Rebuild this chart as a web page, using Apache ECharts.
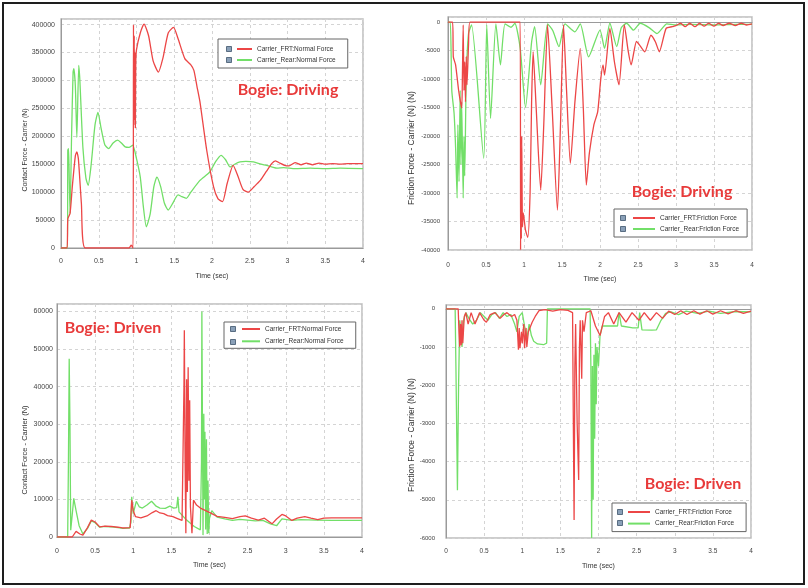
<!DOCTYPE html>
<html>
<head>
<meta charset="utf-8">
<script src="https://cdn.jsdelivr.net/npm/echarts@6/dist/echarts.min.js"></script>
<style>
html, body { margin: 0; padding: 0; background: #fff; }
#myChart { width: 808px; height: 588px; }
</style>
</head>
<body>
<div id="myChart"></div>
<script>
// series names
var nameFrtNormal = 'Carrier_FRT:Normal Force';
var nameRearNormal = 'Carrier_Rear:Normal Force';
var nameFrtFriction = 'Carrier_FRT:Friction Force';
var nameRearFriction = 'Carrier_Rear:Friction Force';

// [time (sec), force (N)]
// Bogie: Driving - contact force
var frtNormalDriving = [[0,0],[0.08,0],[0.09,52000],[0.12,62000],[0.15,110000],[0.19,165000],[0.21,172000],[0.23,160000],[0.27,80000],[0.32,0],[0.9,0],[0.93,5000],[0.955,0],[0.96,400000],[0.965,220000],[0.97,380000],[0.975,230000],[0.98,350000],[0.985,215000],[0.99,330000],[1.0,355000],[1.05,385000],[1.1,401000],[1.16,380000],[1.22,335000],[1.29,315000],[1.35,340000],[1.42,385000],[1.49,395000],[1.55,375000],[1.64,339000],[1.72,328000],[1.76,318000],[1.8,290000],[1.84,262000],[1.93,175000],[2.02,110000],[2.08,88000],[2.14,83000],[2.2,115000],[2.28,148000],[2.34,130000],[2.41,105000],[2.48,100000],[2.56,110000],[2.64,121000],[2.72,137000],[2.79,151000],[2.84,156000],[2.9,152000],[2.96,148000],[3.02,147000],[3.1,153000],[3.18,149000],[3.25,152000],[3.33,149000],[3.42,152000],[3.5,150000],[3.6,151000],[3.7,150000],[3.8,151000],[4.0,151000]];
var rearNormalDriving = [[0,0],[0.085,0],[0.09,175000],[0.1,178000],[0.11,120000],[0.12,62000],[0.14,200000],[0.16,315000],[0.17,321000],[0.19,290000],[0.21,198000],[0.235,327000],[0.25,300000],[0.29,180000],[0.33,125000],[0.36,112000],[0.4,150000],[0.45,220000],[0.49,243000],[0.53,215000],[0.58,185000],[0.63,178000],[0.69,188000],[0.75,193000],[0.8,188000],[0.85,181000],[0.9,180000],[0.95,184000],[1.0,160000],[1.05,127000],[1.09,75000],[1.13,38000],[1.18,60000],[1.23,110000],[1.27,127000],[1.32,110000],[1.37,80000],[1.42,68000],[1.48,80000],[1.55,95000],[1.6,92000],[1.66,89000],[1.72,100000],[1.84,121000],[1.97,136000],[2.05,155000],[2.12,166000],[2.18,158000],[2.24,145000],[2.3,150000],[2.37,154000],[2.45,155000],[2.55,154000],[2.65,150000],[2.72,148000],[2.8,145000],[2.86,143000],[2.95,144000],[3.1,142000],[3.3,143000],[3.5,142000],[3.7,143000],[4.0,142000]];

// Bogie: Driving - friction force
var frtFrictionDriving = [[0,0],[0.06,0],[0.07,-6100],[0.1,-7500],[0.14,-12000],[0.18,-15100],[0.19,-9000],[0.2,-500],[0.21,-12000],[0.22,-7000],[0.23,-14000],[0.24,-6000],[0.25,-11000],[0.27,-4000],[0.29,0],[0.95,0],[0.955,-40000],[0.96,-22000],[0.965,-38000],[0.97,-20000],[0.98,-36000],[0.99,-33500],[1.02,-36500],[1.05,-37800],[1.08,-30000],[1.1,-14000],[1.12,-5200],[1.16,-15000],[1.22,-29500],[1.26,-18000],[1.31,-500],[1.37,-15000],[1.44,-33000],[1.48,-18000],[1.52,-500],[1.56,-12000],[1.61,-24800],[1.67,-14000],[1.74,-4600],[1.78,-15000],[1.82,-28600],[1.86,-23000],[1.92,-18000],[1.97,-15700],[2.01,-10000],[2.04,-7500],[2.06,-9300],[2.13,-1100],[2.19,-7000],[2.25,-11000],[2.32,-500],[2.37,-5000],[2.41,-7500],[2.48,-3400],[2.53,-4200],[2.59,-5200],[2.67,-2300],[2.73,-3500],[2.78,-5200],[2.87,-1100],[2.95,-800],[3.0,-600],[3.06,-200],[3.12,-800],[3.18,-200],[3.25,-800],[3.31,-200],[3.37,-700],[3.43,-200],[3.5,-700],[3.56,-200],[3.62,-600],[3.7,-200],[3.78,-600],[3.86,-200],[3.93,-500],[4.0,-300]];
var rearFrictionDriving = [[0,0],[0.03,0],[0.05,-12000],[0.08,-16000],[0.1,-22000],[0.12,-30900],[0.13,-18000],[0.145,-28000],[0.16,-12000],[0.17,-25000],[0.18,-14000],[0.2,-30900],[0.21,-20000],[0.22,-27000],[0.24,-10000],[0.27,-2000],[0.31,-500],[0.47,-23900],[0.51,-500],[0.56,-16900],[0.63,-300],[0.69,-7500],[0.75,-300],[0.83,-900],[0.88,-200],[0.95,-4600],[1.02,-15000],[1.1,-3500],[1.14,-800],[1.22,-11000],[1.31,-300],[1.38,-1500],[1.46,-4300],[1.54,-300],[1.67,-1700],[1.74,-300],[1.85,-6100],[2.0,-1400],[2.06,-4600],[2.13,-200],[2.22,-4300],[2.28,-1000],[2.35,-200],[2.44,-1400],[2.53,-200],[2.65,-1000],[2.75,-2000],[2.88,-300],[3.0,-500],[3.2,-400],[3.5,-500],[3.8,-400],[4.0,-400]];

// Bogie: Driven - contact force
var frtNormalDriven = [[0,0],[0.2,0],[0.25,1500],[0.3,800],[0.34,500],[0.4,2500],[0.45,4500],[0.5,4000],[0.56,2700],[0.63,2900],[0.71,2800],[0.8,2600],[0.86,2400],[0.96,2500],[0.97,2000],[0.98,9800],[1.0,7000],[1.03,5400],[1.1,5100],[1.18,5600],[1.25,6500],[1.3,7000],[1.35,6400],[1.4,6200],[1.45,5700],[1.52,5400],[1.58,4900],[1.64,4400],[1.66,4000],[1.665,40000],[1.67,55000],[1.68,20000],[1.69,1000],[1.7,42000],[1.71,12000],[1.72,45200],[1.73,15000],[1.74,36400],[1.75,8000],[1.77,1000],[1.79,9800],[1.83,8500],[1.88,7700],[1.95,7000],[2.03,6200],[2.1,5500],[2.2,5200],[2.3,4900],[2.4,5400],[2.47,5600],[2.55,5000],[2.64,4500],[2.72,5000],[2.82,3500],[2.88,4800],[2.95,6000],[3.0,5600],[3.08,4400],[3.15,5000],[3.25,5400],[3.33,5000],[3.42,4600],[3.5,5000],[3.6,5100],[3.8,5100],[4.0,5100]];
var rearNormalDriven = [[0,0],[0.14,0],[0.15,20000],[0.16,47400],[0.17,30000],[0.18,1800],[0.2,6000],[0.22,10300],[0.25,7000],[0.29,3000],[0.34,800],[0.4,2300],[0.45,4300],[0.5,3800],[0.56,2600],[0.63,2800],[0.71,2700],[0.8,2500],[0.86,2300],[0.95,2400],[0.97,4000],[0.98,10700],[1.0,6200],[1.04,9500],[1.08,8000],[1.12,7700],[1.18,8500],[1.24,9500],[1.3,8200],[1.35,7700],[1.42,7600],[1.48,8200],[1.53,7700],[1.57,7800],[1.585,10700],[1.6,6700],[1.7,4500],[1.8,2800],[1.88,1900],[1.895,20000],[1.9,60000],[1.91,20000],[1.915,500],[1.925,32800],[1.935,10000],[1.94,28000],[1.95,2000],[1.96,26000],[1.97,800],[1.98,15000],[1.99,1000],[2.0,5000],[2.03,7000],[2.1,5300],[2.2,4800],[2.3,4400],[2.4,4700],[2.5,4500],[2.6,4300],[2.7,4400],[2.8,3500],[2.88,3000],[2.95,4800],[3.08,4400],[3.2,4600],[3.4,4500],[3.6,4400],[4.0,4400]];

// Bogie: Driven - friction force
var frtFrictionDriven = [[0,0],[0.16,0],[0.17,-600],[0.18,-990],[0.19,-400],[0.2,-950],[0.21,-300],[0.22,-900],[0.24,-200],[0.26,-100],[0.29,-400],[0.33,-100],[0.38,-400],[0.44,-100],[0.5,-300],[0.53,-350],[0.58,-150],[0.64,-100],[0.71,-250],[0.76,-150],[0.8,-100],[0.86,-200],[0.9,-150],[0.93,-300],[0.95,-1070],[0.96,-500],[0.97,-1030],[0.99,-600],[1.0,-900],[1.02,-400],[1.03,-1030],[1.05,-500],[1.06,-1000],[1.08,-600],[1.1,-500],[1.13,-350],[1.17,-200],[1.22,-50],[1.3,-20],[1.4,-60],[1.5,-20],[1.6,-40],[1.66,-100],[1.67,-3000],[1.68,-5530],[1.69,-1500],[1.7,-400],[1.72,-3000],[1.74,-4480],[1.75,-1000],[1.76,-300],[1.78,-1830],[1.79,-300],[1.81,-600],[1.84,-100],[1.9,-50],[1.96,-450],[2.02,-700],[2.08,-200],[2.13,-100],[2.2,-400],[2.27,-100],[2.36,-350],[2.44,-100],[2.53,-300],[2.6,-100],[2.68,-300],[2.76,-100],[2.84,-250],[2.92,-60],[3.0,-150],[3.08,-50],[3.16,-150],[3.25,-50],[3.33,-140],[3.42,-50],[3.5,-140],[3.6,-50],[3.7,-130],[3.8,-50],[3.9,-120],[4.0,-60]];
var rearFrictionDriven = [[0,0],[0.12,0],[0.13,-1500],[0.15,-4750],[0.165,-2000],[0.18,-300],[0.2,-700],[0.21,-1000],[0.23,-300],[0.26,-100],[0.3,-250],[0.35,-400],[0.4,-300],[0.45,-100],[0.5,-200],[0.55,-300],[0.6,-150],[0.65,-100],[0.7,-250],[0.75,-100],[0.8,-200],[0.85,-150],[0.9,-400],[0.93,-600],[0.96,-200],[1.0,-100],[1.03,-450],[1.06,-800],[1.09,-400],[1.12,-700],[1.15,-850],[1.2,-920],[1.28,-940],[1.32,-900],[1.33,0],[1.89,0],[1.9,-1500],[1.91,-6000],[1.92,-1500],[1.93,-5000],[1.94,-1200],[1.95,-3400],[1.96,-900],[1.97,-2500],[1.98,-1000],[2.0,-1500],[2.02,-700],[2.05,-450],[2.15,-450],[2.25,-450],[2.27,-100],[2.3,-450],[2.45,-500],[2.52,-500],[2.54,-100],[2.57,-550],[2.7,-560],[2.76,-550],[2.82,-300],[2.88,-120],[2.95,-80],[3.05,-150],[3.15,-60],[3.3,-120],[3.45,-60],[3.6,-120],[3.8,-70],[4.0,-80]];

var red = '#ec4646';
var green = '#72df68';
var fontFamily = 'Liberation Sans, Arial, sans-serif';

var myChart = echarts.init(document.getElementById('myChart'));

function plainLabel(v) {
    return String(v);
}

function makeXAxis(gi, labelMargin, nameGap, fontSize) {
    return {
        gridIndex: gi,
        type: 'value',
        min: 0,
        max: 4,
        interval: 0.5,
        name: 'Time (sec)',
        nameLocation: 'middle',
        nameGap: nameGap,
        nameTextStyle: { fontSize: 7, color: '#333', fontFamily: fontFamily },
        axisLine: { lineStyle: { color: '#9a9a9a' } },
        axisTick: { show: false },
        axisLabel: { fontSize: fontSize, color: '#444', margin: labelMargin, formatter: plainLabel, fontFamily: fontFamily },
        splitLine: { lineStyle: { color: '#d4d4d4', type: [3, 3] } }
    };
}

function makeYAxis(gi, min, max, interval, labelMargin, fontSize) {
    return {
        gridIndex: gi,
        type: 'value',
        min: min,
        max: max,
        interval: interval,
        axisLine: { show: true, lineStyle: { color: '#9a9a9a' } },
        axisTick: { show: false },
        axisLabel: { fontSize: fontSize, color: '#444', margin: labelMargin, showMaxLabel: false, formatter: plainLabel, fontFamily: fontFamily },
        splitLine: { lineStyle: { color: '#d4d4d4', type: [3, 3] } }
    };
}

function makeLine(name, data, color, gi, smooth) {
    return {
        name: name,
        type: 'line',
        xAxisIndex: gi,
        yAxisIndex: gi,
        data: data,
        showSymbol: false,
        smooth: smooth,
        lineStyle: { color: color, width: 1.3 },
        itemStyle: { color: color },
        animation: false
    };
}

function makeLegend(names, left, top, padding, itemWidth, itemGap) {
    return {
        data: names,
        orient: 'vertical',
        left: left,
        top: top,
        padding: padding,
        itemGap: itemGap,
        itemWidth: itemWidth,
        itemHeight: 2,
        icon: 'rect',
        backgroundColor: '#fff',
        borderColor: '#666',
        borderWidth: 1,
        selectedMode: false,
        textStyle: { fontSize: 6.5, lineHeight: 8, color: '#333', fontFamily: fontFamily }
    };
}

function checkBox(x, y) {
    return {
        type: 'rect',
        shape: { x: x - 2.5, y: y - 2.5, width: 5, height: 5 },
        style: { fill: '#8aa0b8', stroke: '#3d536b', lineWidth: 0.8 },
        z: 100
    };
}

function redNote(text, x, y) {
    return {
        type: 'text',
        x: x,
        y: y,
        style: {
            text: text,
            fill: '#e83a3a',
            fontSize: 16,
            fontFamily: 'Lato, sans-serif',
            fontWeight: 'bold',
            textAlign: 'center',
            textVerticalAlign: 'middle'
        },
        z: 100
    };
}

function yName(text, x, y, fontSize) {
    return {
        type: 'text',
        x: x,
        y: y,
        rotation: Math.PI / 2,
        style: {
            text: text,
            fill: '#333',
            fontSize: fontSize,
            fontFamily: fontFamily,
            textAlign: 'center',
            textVerticalAlign: 'middle'
        },
        z: 100
    };
}

var gridStyle = { show: true, borderColor: '#bdbdbd', borderWidth: 1.5, backgroundColor: '#fff' };

var option = {
    backgroundColor: '#fff',
    animation: false,
    grid: [
        Object.assign({ left: 61, top: 19, width: 302, height: 229 }, gridStyle),
        Object.assign({ left: 448, top: 17, width: 304, height: 233 }, gridStyle),
        Object.assign({ left: 57, top: 304, width: 305, height: 233 }, gridStyle),
        Object.assign({ left: 446, top: 305, width: 305, height: 233 }, gridStyle)
    ],
    xAxis: [
        makeXAxis(0, 10, 25, 7),
        makeXAxis(1, 12, 26, 6.5),
        makeXAxis(2, 11, 25, 7),
        makeXAxis(3, 10, 25, 6.5)
    ],
    yAxis: [
        makeYAxis(0, 0, 410000, 50000, 6, 7),
        makeYAxis(1, -40000, 900, 5000, 8, 6),
        makeYAxis(2, 0, 62000, 10000, 4, 7),
        makeYAxis(3, -6000, 100, 1000, 11, 6)
    ],
    legend: [
        makeLegend([nameFrtNormal, nameRearNormal], 218, 39, [6, 12, 4, 19], 15, 3),
        makeLegend([nameFrtFriction, nameRearFriction], 614, 209, [5, 8, 4, 19], 22, 3),
        makeLegend([nameFrtNormal, nameRearNormal], 224, 322, [3, 12, 3, 18], 18, 4.3),
        makeLegend([nameFrtFriction, nameRearFriction], 612, 503, [5, 12, 4, 16], 22, 3.6)
    ],
    series: [
        makeLine(nameRearNormal, rearNormalDriving, green, 0, 0.2),
        makeLine(nameFrtNormal, frtNormalDriving, red, 0, 0.2),
        makeLine(nameRearFriction, rearFrictionDriving, green, 1, 0.2),
        makeLine(nameFrtFriction, frtFrictionDriving, red, 1, 0.2),
        makeLine(nameRearNormal, rearNormalDriven, green, 2, false),
        makeLine(nameFrtNormal, frtNormalDriven, red, 2, false),
        makeLine(nameRearFriction, rearFrictionDriven, green, 3, false),
        makeLine(nameFrtFriction, frtFrictionDriven, red, 3, false)
    ],
    graphic: [
        {
            type: 'rect',
            shape: { x: 3, y: 3, width: 801, height: 581 },
            style: { fill: 'none', stroke: '#1e1e1e', lineWidth: 2 },
            z: 100
        },
        checkBox(229, 49), checkBox(229, 60),
        checkBox(623, 218), checkBox(623, 229),
        checkBox(233, 329), checkBox(233, 342),
        checkBox(620, 512), checkBox(620, 523),
        redNote('Bogie: Driving', 288, 90),
        redNote('Bogie: Driving', 682, 192),
        redNote('Bogie: Driven', 113, 328),
        redNote('Bogie: Driven', 693, 484),
        yName('Contact Force - Carrier (N)', 25, 150, 7),
        yName('Friction Force - Carrier (N) (N)', 412, 148, 8.5),
        yName('Contact Force - Carrier (N)', 25, 450, 7.5),
        yName('Friction Force - Carrier (N) (N)', 412, 435, 8.5)
    ]
};

myChart.setOption(option);
</script>
</body>
</html>
